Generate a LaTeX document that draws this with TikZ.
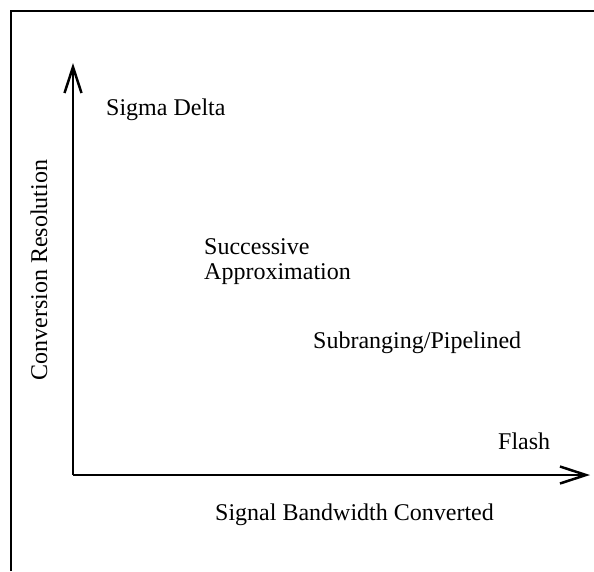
\documentclass[tikz,border=0pt]{standalone}
\usepackage{fontspec}
\setmainfont{Liberation Serif}
\usetikzlibrary{arrows.meta,positioning}

\begin{document}
\begin{tikzpicture}[x=1pt,y=-1pt,
    lbl/.style={inner sep=0pt,anchor=base west,font=\fontsize{24}{26}\selectfont},
    axis/.style={line width=2.5pt,-{Straight Barb[length=26pt,width=17pt]}}]
  \useasboundingbox (0,0) rectangle (594,571);

  % open frame, top and left
  \coordinate (framebl) at (11,571);
  \coordinate (frametl) at (11,11);
  \coordinate (frametr) at (594,11);
  \draw[line width=1.2pt] (framebl) -- (frametl) -- (frametr);

  % axes
  \coordinate (origin) at (73,475);
  \coordinate (ytip) at (73,63);
  \coordinate (xtip) at (590,475);
  \draw[axis] (origin) -- (ytip);
  \draw[axis] (origin) -- (xtip);

  \node[lbl] (sigma) at (106,115) {Sigma Delta};
  \node[lbl] (succ) at (204,254) {Successive};
  \node[lbl] (approx) at ([yshift=-25pt]succ.base west) {Approximation};
  \node[lbl] (subr) at (313,348) {Subranging/Pipelined};
  \node[lbl] (flash) at (498,449) {Flash};

  \node[lbl] (xlabel) at (215,520) {Signal Bandwidth Converted};
  \node[lbl,rotate=90,anchor=base] (ylabel) at (47,270) {Conversion Resolution};
\end{tikzpicture}
\end{document}
